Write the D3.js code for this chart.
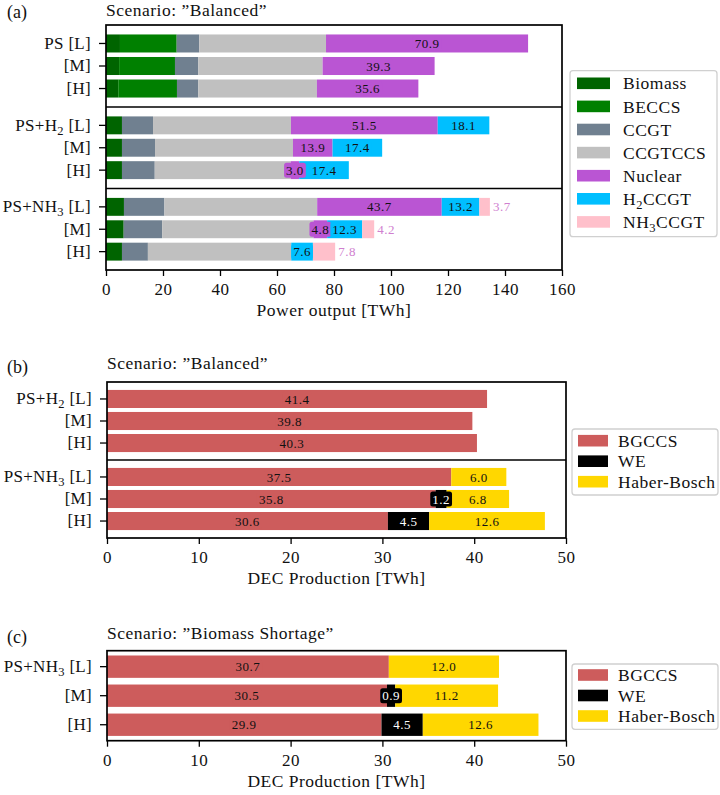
<!DOCTYPE html>
<html>
<head>
<meta charset="utf-8">
<script src="https://cdn.jsdelivr.net/npm/d3@7"></script>
<style>
body{margin:0;background:#fff;}
text{font-family:"Liberation Serif","DejaVu Serif",serif;fill:#111;letter-spacing:0.5px;}
</style>
</head>
<body>
<svg width="720" height="795"></svg>
<script>
// ---------- data ----------
var levels=["L","M","H"];
var groupsA=["PS","PS+H2","PS+NH3"];
var groupsB=["PS+H2","PS+NH3"];
var groupsC=["PS+NH3"];

// panel (a) power output [TWh], order: PS L,M,H | PS+H2 L,M,H | PS+NH3 L,M,H
var techA=["Biomass","BECCS","CCGT","CCGTCCS","Nuclear","H2CCGT","NH3CCGT"];
var biomass=[4.9,4.6,4.3, 5.6,5.6,5.6, 6.3,6.2,5.6];
var beccs=[19.9,19.6,20.6, 0,0,0, 0,0,0];
var ccgt=[7.9,8.2,7.5, 10.9,11.6,11.5, 14.2,13.5,9.1];
var ccgtccs=[44.5,43.6,41.6, 48.4,48.4,47.7, 53.6,53.1,50.3];
var nuclear=[70.9,39.3,35.6, 51.5,13.9,3.0, 43.7,4.8,0];
var h2ccgt=[0,0,0, 18.1,17.4,17.4, 13.2,12.3,7.6];
var nh3ccgt=[0,0,0, 0,0,0, 3.7,4.2,7.8];
var ticksA=[0,20,40,60,80,100,120,140,160];

// panel (b) DEC production, scenario Balanced
var techDEC=["BGCCS","WE","Haber-Bosch"];
var bgccsB=[41.4,39.8,40.3, 37.5,35.8,30.6];
var weB=[0,0,0, 0,1.2,4.5];
var hbB=[0,0,0, 6.0,6.8,12.6];

// panel (c) DEC production, scenario Biomass Shortage
var bgccsC=[30.7,30.5,29.9];
var weC=[0,0.9,4.5];
var hbC=[12.0,11.2,12.6];
var ticksDEC=[0,10,20,30,40,50];

var colA={"Biomass":"#006400","BECCS":"#008000","CCGT":"#708090","CCGTCCS":"#c0c0c0",
  "Nuclear":"#ba55d3","H2CCGT":"#00bfff","NH3CCGT":"#ffc0cb"};
var colDEC={"BGCCS":"#cd5c5c","WE":"#000000","Haber-Bosch":"#ffd700"};

var FS="17.5px", FAM="Liberation Serif";
var svg=d3.select("svg");
var fmt=d3.format(".1f");

// write "PS+H2" style names with subscripts
var richText=function(sel,str){
  var parts=str.split(/(\d)/);
  var shift=0;
  parts.forEach(function(p){
    if(p==="")return;
    if(/\d/.test(p)){
      sel.append("tspan").attr("font-size","12.5px").attr("dy",4).text(p);
      shift=1;
    }else{
      var t=sel.append("tspan").text(p);
      if(shift){t.attr("dy",-4);shift=0;}
    }
  });
};

var boxLabel=function(g,x,y,txt,fill,textColor){
  var t=g.append("text").attr("x",x).attr("y",y).attr("dy","0.35em")
    .attr("text-anchor","middle").attr("font-size","13px")
    .style("fill",textColor).text(txt);
  var bb=t.node().getBBox();
  g.insert("rect","text:last-child")
    .attr("x",bb.x-2).attr("y",bb.y).attr("width",bb.width+4).attr("height",bb.height)
    .attr("rx",2.5).attr("fill",fill);
};

//////////////////////////////////////////////////////////////
var drawPanel=function(cfg){
  var x=d3.scaleLinear().domain(cfg.domain).range([cfg.left,cfg.right]);
  var g=svg.append("g");
  var stacked=d3.stack().keys(cfg.keys)(cfg.rows);

  cfg.bands.forEach(function(b,gi){
    var y=d3.scaleBand().domain(levels).range([b[0],b[1]])
      .paddingInner(cfg.pIn).paddingOuter(cfg.pOut);
    stacked.forEach(function(layer){
      var key=layer.key;
      layer.forEach(function(d,i){
        if(Math.floor(i/3)!==gi)return;
        if(d[1]-d[0]<=0)return;
        g.append("rect")
          .attr("x",x(d[0]))
          .attr("y",y(levels[i%3]))
          .attr("width",x(d[1])-x(d[0]))
          .attr("height",y.bandwidth())
          .attr("fill",cfg.colors[key]);
      });
    });
    // labels
    var lg=g.append("g");
    stacked.forEach(function(layer){
      var key=layer.key;
      if(cfg.center.indexOf(key)<0 && cfg.edge.indexOf(key)<0)return;
      layer.forEach(function(d,i){
        if(Math.floor(i/3)!==gi)return;
        var v=d[1]-d[0];
        if(v<=0)return;
        var yc=y(levels[i%3])+y.bandwidth()/2;
        if(cfg.center.indexOf(key)>=0){
          var tc=key==="WE"?"#fff":"#111";
          boxLabel(lg.append("g"),(x(d[0])+x(d[1]))/2,yc,fmt(v),cfg.colors[key],tc);
        }else{
          lg.append("text").attr("x",x(d[1])+3).attr("y",yc).attr("dy","0.35em")
            .attr("font-size","13px").style("fill","#d07fcf").text(fmt(v));
        }
      });
    });
    // y axis for this group
    var ya=g.append("g").attr("transform","translate("+cfg.left+",0)")
      .call(d3.axisLeft(y).tickSize(7).tickPadding(8));
    ya.select(".domain").remove();
    ya.selectAll(".tick line").attr("stroke","#000").attr("stroke-width",1.3);
    ya.selectAll(".tick text").each(function(lv){
      var t=d3.select(this).text("").attr("font-size","17px")
        .attr("font-family",FAM).style("fill","#111").style("letter-spacing","0.3px");
      if(lv==="L"){richText(t,cfg.groups[gi]+" ");}
      t.append("tspan").text("["+lv+"]");
    });
  });

  // dividers + frame
  cfg.bands.slice(1).forEach(function(b){
    g.append("line").attr("x1",cfg.left).attr("x2",cfg.right)
      .attr("y1",b[0]).attr("y2",b[0]).attr("stroke","#000").attr("stroke-width",1.7);
  });
  var top=cfg.bands[0][0],bot=cfg.bands[cfg.bands.length-1][1];
  g.append("rect").attr("x",cfg.left).attr("y",top)
    .attr("width",cfg.right-cfg.left).attr("height",bot-top)
    .attr("fill","none").attr("stroke","#000").attr("stroke-width",1.7);

  var xa=g.append("g").attr("transform","translate(0,"+bot+")")
    .call(d3.axisBottom(x).tickValues(cfg.ticks).tickSize(6).tickPadding(7));
  xa.select(".domain").remove();
  xa.selectAll(".tick line").attr("stroke","#000").attr("stroke-width",1.3);
  xa.selectAll(".tick text").attr("font-size","17px").attr("font-family",FAM).style("fill","#111");

  g.append("text").attr("x",(cfg.left+cfg.right)/2).attr("y",bot+46)
    .attr("text-anchor","middle").attr("font-size",FS).text(cfg.xTitle);
  g.append("text").attr("x",cfg.left).attr("y",top-cfg.titleGap)
    .attr("font-size",FS).text(cfg.title);
  g.append("text").attr("x",7).attr("y",cfg.tagY)
    .attr("font-family","Liberation Sans, Arial, sans-serif")
    .style("letter-spacing","0px")
    .attr("font-size","18px").text(cfg.tag);

  // legend
  var L=cfg.legend;
  g.append("rect").attr("x",L.x).attr("y",L.y).attr("width",L.w).attr("height",L.h)
    .attr("rx",3).attr("fill","#fff").attr("stroke","#d0d0d0").attr("stroke-width",1.3);
  cfg.keys.forEach(function(k,i){
    var cy=L.y0+i*L.step;
    g.append("rect").attr("x",L.px).attr("y",cy-5.8).attr("width",L.pw).attr("height",11.6)
      .attr("fill",cfg.colors[k]);
    var t=g.append("text").attr("x",L.tx).attr("y",cy).attr("dy","0.35em").attr("font-size",FS);
    richText(t,k);
  });
};

////////////////////////////////////////////////
var rowsA=d3.range(9).map(function(i){
  return {Biomass:biomass[i],BECCS:beccs[i],CCGT:ccgt[i],CCGTCCS:ccgtccs[i],
    Nuclear:nuclear[i],H2CCGT:h2ccgt[i],NH3CCGT:nh3ccgt[i]};
});
var rowsB=d3.range(6).map(function(i){
  return {"BGCCS":bgccsB[i],"WE":weB[i],"Haber-Bosch":hbB[i]};
});
var rowsC=d3.range(3).map(function(i){
  return {"BGCCS":bgccsC[i],"WE":weC[i],"Haber-Bosch":hbC[i]};
});

drawPanel({
  rows:rowsA,keys:techA,colors:colA,groups:groupsA,
  domain:[0,160],ticks:ticksA,left:106,right:562,
  bands:[[25,107],[107,188.5],[188.5,270]],pIn:0.2,pOut:0.42,
  center:["Nuclear","H2CCGT"],edge:["NH3CCGT"],
  xTitle:"Power output [TWh]",title:"Scenario:  \u201dBalanced\u201d",titleGap:9,
  tag:"(a)",tagY:18,
  legend:{x:570,y:70.7,w:147,h:166,y0:83.3,step:23.1,px:577,pw:33,tx:623}
});

drawPanel({
  rows:rowsB,keys:techDEC,colors:colDEC,groups:groupsB,
  domain:[0,50],ticks:ticksDEC,left:107,right:566,
  bands:[[382,460],[460,538]],pIn:0.18,pOut:0.36,
  center:["BGCCS","WE","Haber-Bosch"],edge:[],
  xTitle:"DEC Production [TWh]",title:"Scenario:  \u201dBalanced\u201d",titleGap:13,
  tag:"(b)",tagY:373,
  legend:{x:572,y:429,w:146,h:66,y0:440.7,step:20.5,px:578,pw:30,tx:618}
});

drawPanel({
  rows:rowsC,keys:techDEC,colors:colDEC,groups:groupsC,
  domain:[0,50],ticks:ticksDEC,left:107,right:566,
  bands:[[650.7,740.7]],pIn:0.23,pOut:0.165,
  center:["BGCCS","WE","Haber-Bosch"],edge:[],
  xTitle:"DEC Production [TWh]",title:"Scenario:  \u201dBiomass Shortage\u201d",titleGap:12,
  tag:"(c)",tagY:643,
  legend:{x:572,y:664,w:146,h:65.3,y0:675,step:20.5,px:578,pw:30,tx:618}
});
</script>
</body>
</html>
